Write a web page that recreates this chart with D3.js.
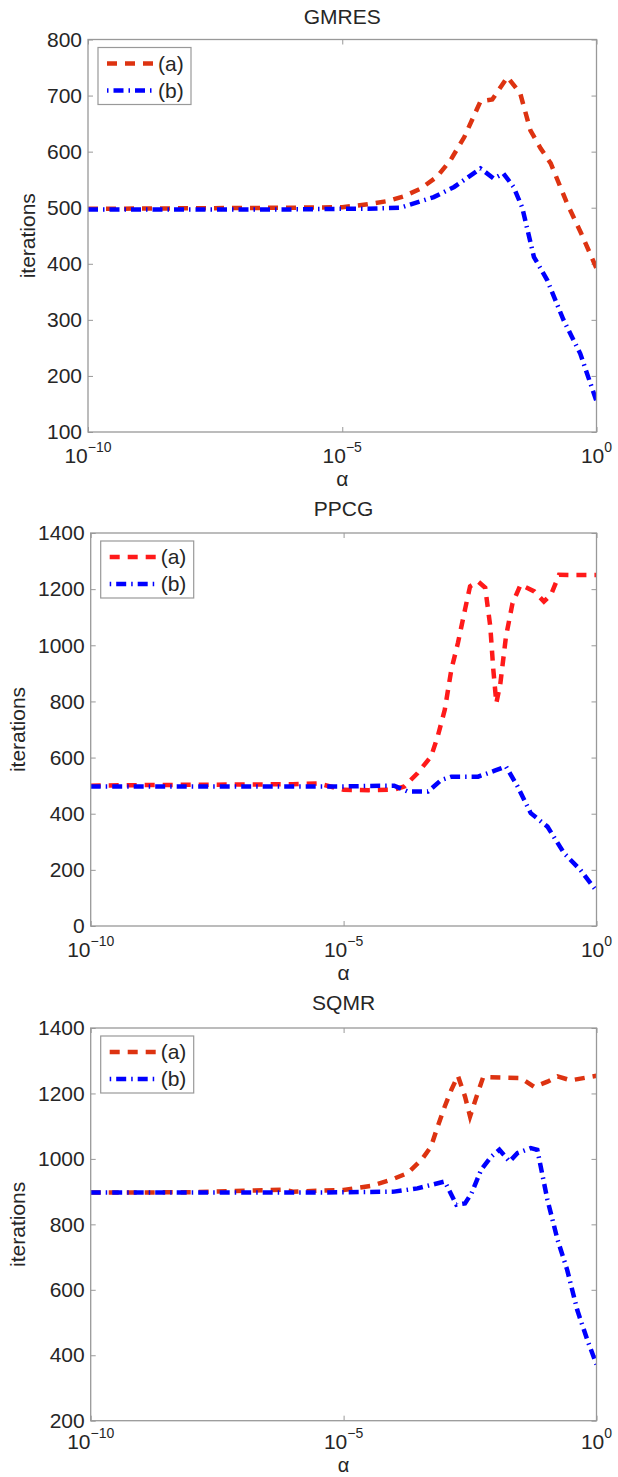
<!DOCTYPE html>
<meta charset="utf-8">
<head>
<script src="https://d3js.org/d3.v7.min.js"></script>
<script>
if (typeof d3 === "undefined") document.write('<script src="https://cdn.jsdelivr.net/npm/d3@7/dist/d3.min.js"><\/script>');
</script>
<script>
if (typeof d3 === "undefined") document.write('<script src="https://unpkg.com/d3@7/dist/d3.min.js"><\/script>');
</script>
<style>
body { margin: 0; background: #fff; overflow: hidden; }
text { font-family: "Liberation Sans", Arial, sans-serif; fill: #262626; }
</style>
</head>
<body>
<svg id="chart"></svg>
<script>
var gmresExpA = [-10, -8, -6, -5, -4.5, -4.1, -3.8, -3.46, -3.14, -2.87, -2.6, -2.28, -2.05, -1.75, -1.5, -1.3, -1.1, -0.9, -0.58, -0.3, 0];
var gmresA    = [498, 499, 500, 501, 506, 512, 520, 534, 555, 585, 626, 690, 693, 733, 704, 638, 606, 579, 508, 454, 392];
var gmresExpB = [-10, -8, -6, -5, -4.5, -3.86, -3.2, -2.8, -2.28, -2.02, -1.83, -1.63, -1.46, -1.23, -0.97, -0.65, -0.32, 0];
var gmresB    = [497, 497, 497, 498, 498, 500, 519, 537, 570, 552, 561, 537, 500, 412, 371, 300, 240, 155];

var ppcgExpA = [-10, -9, -8, -7, -6, -5.5, -5, -4.5, -4, -3.8, -3.54, -3.27, -3.14, -3.0, -2.87, -2.74, -2.6, -2.5, -2.34, -2.2, -2.1, -2.04, -1.98, -1.9, -1.79, -1.66, -1.5, -1.23, -1.04, -0.9, -0.74, -0.4, 0];
var ppcgA    = [500, 502, 503, 504, 505, 508, 485, 484, 486, 497, 544, 604, 675, 770, 913, 1008, 1127, 1210, 1227, 1205, 1067, 913, 794, 865, 1031, 1150, 1216, 1192, 1156, 1180, 1251, 1250, 1250];
var ppcgExpB = [-10, -8, -6, -5, -4.5, -4, -3.73, -3.33, -3.07, -2.87, -2.34, -2.0, -1.79, -1.56, -1.3, -0.97, -0.64, -0.32, 0];
var ppcgB    = [497, 497, 497, 497, 499, 500, 479, 479, 520, 532, 532, 554, 568, 497, 402, 354, 259, 200, 125];

var sqmrExpA = [-10, -8, -6.2, -6, -5, -4.45, -4.06, -3.73, -3.46, -3.27, -3.14, -3.0, -2.87, -2.74, -2.6, -2.5, -2.37, -2.24, -1.5, -1.23, -0.97, -0.77, -0.51, 0];
var sqmrA    = [897, 898, 906, 900, 905, 918, 936, 957, 997, 1038, 1099, 1160, 1211, 1254, 1191, 1130, 1191, 1250, 1247, 1220, 1236, 1252, 1240, 1254];
var sqmrExpB = [-10, -8, -6, -5, -4, -3.54, -3.0, -2.77, -2.6, -2.47, -2.28, -2.08, -1.92, -1.72, -1.56, -1.3, -1.17, -0.97, -0.77, -0.58, -0.38, -0.18, 0];
var sqmrB    = [897, 897, 897, 898, 900, 910, 931, 860, 864, 895, 967, 1007, 1028, 992, 1018, 1033, 1028, 875, 753, 661, 538, 446, 372];

var xTickExp = [-10, -5, 0];
var seriesNames = ["(a)", "(b)"];

var panels = [
  {title: "GMRES", expA: gmresExpA, a: gmresA, expB: gmresExpB, b: gmresB,
   yMin: 100, yMax: 800, yStep: 100, red: "#dd3311",
   left: 88, top: 39.5, bottom: 432, titleY: 24, yLabelX: 28, xLabelDy: 31, alphaY: 486, alphaSize: 21},
  {title: "PPCG", expA: ppcgExpA, a: ppcgA, expB: ppcgExpB, b: ppcgB,
   yMin: 0, yMax: 1400, yStep: 200, red: "#ff1a1a",
   left: 90.7, top: 533, bottom: 926, titleY: 516, yLabelX: 18, xLabelDy: 31, alphaY: 980, alphaSize: 21},
  {title: "SQMR", expA: sqmrExpA, a: sqmrA, expB: sqmrExpB, b: sqmrB,
   yMin: 200, yMax: 1400, yStep: 200, red: "#dd3311",
   left: 90.7, top: 1028, bottom: 1420.7, titleY: 1010, yLabelX: 18, xLabelDy: 28, alphaY: 1472, alphaSize: 20}
];
var right = 596.5;
var blue = "#0000ff";
var redDash = "10,8";
var blueDash = "10,5,1.5,5";

var svg = d3.select("#chart").attr("width", 618).attr("height", 1477);

panels.forEach(function(p, i) {
  var x = d3.scaleLog().domain([1e-10, 1]).range([p.left, right]);
  var y = d3.scaleLinear().domain([p.yMin, p.yMax]).range([p.bottom, p.top]);
  var yTicks = d3.range(p.yMin, p.yMax + 1, p.yStep);
  var xTicks = xTickExp.map(function(e) { return Math.pow(10, e); });
  var g = svg.append("g");

  // axes: ticks point inward on every side
  g.append("g").attr("transform", "translate(" + p.left + ",0)")
    .call(d3.axisLeft(y).tickValues(yTicks).tickSize(-5).tickPadding(6).tickFormat(d3.format("d")))
    .call(function(s) {
      s.select(".domain").remove();
      s.selectAll("line").attr("stroke", "#999");
      s.selectAll("text").attr("font-size", 21).attr("font-family", "Liberation Sans, Arial, sans-serif").attr("fill", "#262626");
    });
  g.append("g").attr("transform", "translate(" + right + ",0)")
    .call(d3.axisRight(y).tickValues(yTicks).tickSize(-5).tickFormat(""))
    .call(function(s) { s.select(".domain").remove(); s.selectAll("line").attr("stroke", "#999"); });
  g.append("g").attr("transform", "translate(0," + p.bottom + ")")
    .call(d3.axisBottom(x).tickValues(xTicks).tickSize(-5).tickFormat(""))
    .call(function(s) { s.select(".domain").remove(); s.selectAll("line").attr("stroke", "#999"); });
  g.append("g").attr("transform", "translate(0," + p.top + ")")
    .call(d3.axisTop(x).tickValues(xTicks).tickSize(-5).tickFormat(""))
    .call(function(s) { s.select(".domain").remove(); s.selectAll("line").attr("stroke", "#999"); });

  xTickExp.forEach(function(e) {
    var t = g.append("text").attr("x", x(Math.pow(10, e))).attr("y", p.bottom + p.xLabelDy)
      .attr("text-anchor", "middle").attr("font-size", 21);
    t.append("tspan").text("10");
    t.append("tspan").attr("dy", -11).attr("font-size", 14).text(e < 0 ? "\u2212" + (-e) : e);
  });

  // curves
  var clipId = "clip" + i;
  g.append("clipPath").attr("id", clipId).append("rect")
    .attr("x", p.left).attr("y", p.top).attr("width", right - p.left).attr("height", p.bottom - p.top);
  var line = d3.line()
    .x(function(d) { return x(Math.pow(10, d[0])); })
    .y(function(d) { return y(d[1]); });
  var plot = g.append("g").attr("clip-path", "url(#" + clipId + ")");
  plot.append("path").datum(d3.zip(p.expA, p.a)).attr("d", line)
    .attr("fill", "none").attr("stroke", p.red).attr("stroke-width", 4.5).attr("stroke-dasharray", redDash);
  plot.append("path").datum(d3.zip(p.expB, p.b)).attr("d", line)
    .attr("fill", "none").attr("stroke", blue).attr("stroke-width", 4.5).attr("stroke-dasharray", blueDash);

  // frame
  g.append("rect").attr("x", p.left).attr("y", p.top)
    .attr("width", right - p.left).attr("height", p.bottom - p.top)
    .attr("fill", "none").attr("stroke", "#999").attr("stroke-width", 1.3);

  // labels
  g.append("text").attr("x", (p.left + right) / 2).attr("y", p.titleY)
    .attr("text-anchor", "middle").attr("font-size", 21).text(p.title);
  g.append("text").attr("x", (p.left + right) / 2).attr("y", p.alphaY)
    .attr("text-anchor", "middle").attr("font-size", p.alphaSize).text("\u03b1");
  g.append("text").attr("transform", "translate(" + p.yLabelX + "," + (p.top + p.bottom) / 2 + ") rotate(-90)")
    .attr("text-anchor", "middle").attr("dy", "0.35em").attr("font-size", 21).text("iterations");

  // legend
  var lx = p.left + 10, ly = p.top + 8;
  var leg = g.append("g").attr("transform", "translate(" + lx + "," + ly + ")");
  leg.append("rect").attr("width", 93).attr("height", 57)
    .attr("fill", "#fff").attr("stroke", "#999").attr("stroke-width", 1.2);
  [[p.red, redDash, 16, 0], [blue, blueDash, 43, 15]].forEach(function(s, k) {
    leg.append("line").attr("x1", 9).attr("x2", 56).attr("y1", s[2]).attr("y2", s[2])
      .attr("stroke", s[0]).attr("stroke-width", 4.5).attr("stroke-dasharray", s[1])
      .attr("stroke-dashoffset", s[3]);
    leg.append("text").attr("x", 60).attr("y", s[2]).attr("dy", "0.35em")
      .attr("font-size", 21).text(seriesNames[k]);
  });
});
</script>
</body>
